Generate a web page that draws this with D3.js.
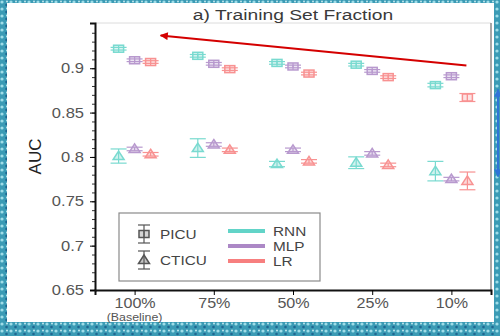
<!DOCTYPE html>
<html>
<head>
<meta charset="utf-8">
<script src="https://cdn.jsdelivr.net/npm/d3@7"></script>
<style>
  html, body { margin: 0; padding: 0; background: #45a6bd; }
  svg { display: block; font-family: "Liberation Sans", Arial, sans-serif; }
</style>
</head>
<body>
<svg id="chart" width="500" height="336"></svg>
<script>
// categories
const fractions = ["100%", "75%", "50%", "25%", "10%"];
const models = ["RNN", "MLP", "LR"];
const yTicks = [0.65, 0.7, 0.75, 0.8, 0.85, 0.9];

// PICU (squares) mean AUC and error half-width
const picuRNN = [0.922, 0.914, 0.906, 0.904, 0.881];
const picuMLP = [0.909, 0.905, 0.902, 0.897, 0.891];
const picuLR = [0.907, 0.899, 0.894, 0.890, 0.867];
const picuErrRNN = [0.0015, 0.0015, 0.0015, 0.0015, 0.002];
const picuErrMLP = [0.0015, 0.0015, 0.0015, 0.0015, 0.0015];
const picuErrLR = [0.0015, 0.0015, 0.0015, 0.0015, 0.0045];

// CTICU (triangles)
const cticuRNN = [0.801, 0.810, 0.792, 0.7935, 0.784];
const cticuMLP = [0.809, 0.814, 0.808, 0.804, 0.775];
const cticuLR = [0.803, 0.808, 0.795, 0.791, 0.773];
const cticuErrRNN = [0.008, 0.0105, 0.003, 0.0066, 0.011];
const cticuErrMLP = [0.002, 0.002, 0.002, 0.002, 0.002];
const cticuErrLR = [0.002, 0.002, 0.002, 0.002, 0.010];

const colors = { RNN: "#62d4c8", MLP: "#ac88c6", LR: "#f77f7f" };

var svg = d3.select("#chart"),
  margin = { top: 23, right: 9, bottom: 46, left: 95 },
  W = +svg.attr("width"),
  H = +svg.attr("height");

// the photographed slide looks horizontally stretched; widen text to match
function widen(sel, s) {
  sel.each(function() {
    var t = d3.select(this);
    var tx = +t.attr("x") || 0, ty = +t.attr("y") || 0;
    t.attr("x", 0).attr("y", 0)
      .attr("transform", "translate(" + tx + "," + ty + ") scale(" + s + ",1)");
  });
}

// textured backdrop
var defs = svg.append("defs");
var pat = defs.append("pattern")
  .attr("id", "tex")
  .attr("width", 9).attr("height", 7)
  .attr("patternUnits", "userSpaceOnUse");
pat.append("rect").attr("width", 9).attr("height", 7).attr("fill", "#3b9bb5");
pat.append("circle").attr("cx", 2).attr("cy", 2).attr("r", 1.6).attr("fill", "#9fdde8");
pat.append("circle").attr("cx", 6.5).attr("cy", 5).attr("r", 1.3).attr("fill", "#1f6690");
pat.append("circle").attr("cx", 7).attr("cy", 1.5).attr("r", 0.9).attr("fill", "#cdeff3");

defs.append("marker")
  .attr("id", "redhead")
  .attr("viewBox", "0 0 10 10")
  .attr("refX", 9).attr("refY", 5)
  .attr("markerWidth", 5).attr("markerHeight", 4)
  .attr("orient", "auto")
  .append("path").attr("d", "M0,0L10,5L0,10Z").attr("fill", "#d40000");
defs.append("marker")
  .attr("id", "bluehead")
  .attr("viewBox", "0 0 10 10")
  .attr("refX", 9).attr("refY", 5)
  .attr("markerWidth", 4).attr("markerHeight", 4)
  .attr("orient", "auto-start-reverse")
  .append("path").attr("d", "M0,0L10,5L0,10Z").attr("fill", "#2f74d8");

svg.append("rect").attr("width", W).attr("height", H).attr("fill", "url(#tex)");
svg.append("rect")
  .attr("x", 7).attr("y", 3)
  .attr("width", 487).attr("height", 319)
  .attr("fill", "#ffffff");

var x0 = margin.left, x1 = W - margin.right, yTop = margin.top, yBot = H - margin.bottom;

var x = d3.scalePoint().domain(fractions).range([x0, x1]).padding(0.5);
var off = d3.scalePoint().domain(models).range([-16, 16]);
var y = d3.scaleLinear().domain([0.65, 0.951]).range([yBot, yTop]);

// frame
svg.append("line").attr("x1", x0).attr("x2", x1).attr("y1", yTop).attr("y2", yTop)
  .attr("stroke", "#dcdcdc").attr("stroke-width", 1);
svg.append("line").attr("x1", x1).attr("x2", x1).attr("y1", yTop).attr("y2", yBot)
  .attr("stroke", "#8a8a8a").attr("stroke-width", 1.5);

// title
svg.append("text")
  .attr("x", (x0 + x1) / 2).attr("y", 20)
  .attr("text-anchor", "middle")
  .attr("font-size", 14.5)
  .attr("fill", "#3a3a3a")
  .text("a) Training Set Fraction")
  .call(widen, 1.33);

// minor y ticks
svg.append("g")
  .attr("transform", "translate(" + x0 + ",0)")
  .call(d3.axisLeft(y).tickValues(d3.range(0.66, 0.945, 0.01)).tickSize(3).tickFormat(""))
  .call(g => g.select(".domain").remove())
  .selectAll("line").attr("stroke", "#333");

// y axis
var yAxis = svg.append("g")
  .attr("transform", "translate(" + x0 + ",0)")
  .call(d3.axisLeft(y).tickValues(yTicks).tickSize(5).tickPadding(6).tickFormat(d => String(d)));
yAxis.select(".domain").attr("stroke", "#111").attr("stroke-width", 2);
yAxis.selectAll("text").attr("font-size", 14).attr("fill", "#555")
  .attr("font-family", "Liberation Sans, Arial, sans-serif")
  .call(widen, 1.18);

// x axis
var xAxis = svg.append("g")
  .attr("transform", "translate(0," + yBot + ")")
  .call(d3.axisBottom(x).tickSize(5).tickPadding(3));
xAxis.select(".domain").attr("stroke", "#111").attr("stroke-width", 2);
xAxis.selectAll("text").attr("font-size", 14).attr("fill", "#555")
  .attr("font-family", "Liberation Sans, Arial, sans-serif")
  .call(widen, 1.15);
svg.append("text")
  .attr("x", x(fractions[0])).attr("y", 321)
  .attr("text-anchor", "middle")
  .attr("font-size", 10.5)
  .attr("fill", "#555")
  .text("(Baseline)")
  .call(widen, 1.18);

// y label
svg.append("text")
  .attr("transform", "translate(41," + (yTop + yBot) / 2 + ") rotate(-90)")
  .attr("text-anchor", "middle")
  .attr("font-size", 17)
  .attr("fill", "#222")
  .text("AUC");

var series = [
  { model: "RNN", shape: "square", values: picuRNN, errs: picuErrRNN },
  { model: "MLP", shape: "square", values: picuMLP, errs: picuErrMLP },
  { model: "LR", shape: "square", values: picuLR, errs: picuErrLR },
  { model: "RNN", shape: "triangle", values: cticuRNN, errs: cticuErrRNN },
  { model: "MLP", shape: "triangle", values: cticuMLP, errs: cticuErrMLP },
  { model: "LR", shape: "triangle", values: cticuLR, errs: cticuErrLR }
];

const triPath = "M0,-5L5.5,3.5L-5.5,3.5Z";

function drawMarker(g, shape, col, hi, lo, cap) {
  g.append("line").attr("x1", 0).attr("x2", 0).attr("y1", hi).attr("y2", lo)
    .attr("stroke", col).attr("stroke-width", 1.2);
  [hi, lo].forEach(v => g.append("line")
    .attr("x1", -cap).attr("x2", cap).attr("y1", v).attr("y2", v)
    .attr("stroke", col).attr("stroke-width", 1.2));
  if (shape === "square") {
    g.append("rect").attr("x", -5).attr("y", -3.5).attr("width", 10).attr("height", 7)
      .attr("fill", col).attr("fill-opacity", 0.25)
      .attr("stroke", col).attr("stroke-width", 1.5);
    g.append("line").attr("x1", 0).attr("x2", 0).attr("y1", -3.5).attr("y2", 3.5)
      .attr("stroke", col).attr("stroke-width", 1.2);
  } else {
    g.append("path").attr("d", triPath)
      .attr("fill", col).attr("fill-opacity", 0.35)
      .attr("stroke", col).attr("stroke-width", 1.5);
  }
}

series.forEach(s => {
  s.values.forEach((v, i) => {
    var cx = x(fractions[i]) + off(s.model), cy = y(v);
    var g = svg.append("g")
      .attr("transform", "translate(" + cx + "," + cy + ")")
      .attr("opacity", 0.85);
    drawMarker(g, s.shape, colors[s.model], y(v + s.errs[i]) - cy, y(v - s.errs[i]) - cy, 8);
  });
});

// red trend arrow
svg.append("line")
  .attr("x1", x(fractions[4]) + 15).attr("y1", y(0.903))
  .attr("x2", x(fractions[0]) + 26).attr("y2", y(0.937))
  .attr("stroke", "#d40000").attr("stroke-width", 2)
  .attr("marker-end", "url(#redhead)");

// blue double arrow at the right edge
svg.append("line")
  .attr("x1", 498).attr("x2", 498)
  .attr("y1", y(0.876)).attr("y2", y(0.778))
  .attr("stroke", "#2f74d8").attr("stroke-width", 2)
  .attr("marker-start", "url(#bluehead)")
  .attr("marker-end", "url(#bluehead)");

// legend
var leg = svg.append("g").attr("transform", "translate(119,213)");
leg.append("rect").attr("width", 201).attr("height", 68)
  .attr("fill", "#fff").attr("stroke", "#8a8a8a").attr("stroke-width", 1.2);
[["square", "PICU", 21], ["triangle", "CTICU", 47]].forEach(([shape, label, ly]) => {
  var g = leg.append("g").attr("transform", "translate(25," + ly + ")");
  drawMarker(g, shape, "#555", -9, 9, 6);
  leg.append("text").attr("x", 41).attr("y", ly + 5)
    .attr("font-size", 13).attr("fill", "#444").text(label)
    .call(widen, 1.18);
});
models.forEach((m, i) => {
  var ly = 18 + i * 15;
  leg.append("line").attr("x1", 109).attr("x2", 146).attr("y1", ly).attr("y2", ly)
    .attr("stroke", colors[m]).attr("stroke-width", 4);
  leg.append("text").attr("x", 154).attr("y", ly + 5)
    .attr("font-size", 13).attr("fill", "#444").text(m)
    .call(widen, 1.18);
});
</script>
</body>
</html>
